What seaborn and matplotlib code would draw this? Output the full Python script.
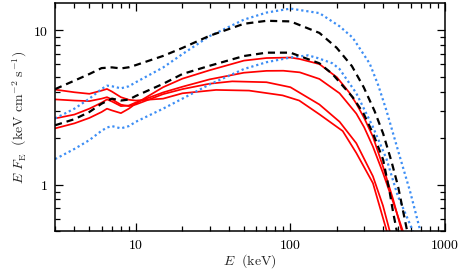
import numpy as np
import pandas as pd
import matplotlib
matplotlib.use("Agg")
import matplotlib.pyplot as plt
import seaborn as sns

# ── data (E in keV, E*F_E) ─────────────────────────────────────
# black dashed, upper
E_dash_hi = [3, 4, 5, 6, 7, 8, 9, 10, 15, 20, 30, 50, 70, 100, 154, 199,
             250, 298, 350, 398, 450, 497, 567]
F_dash_hi = [4.15, 4.71, 5.2, 5.68, 5.74, 5.65, 5.75, 5.94, 6.81, 7.67, 9.2,
             11.0, 11.5, 11.4, 9.6, 7.7, 5.85, 4.27, 3.0, 2.14, 1.42, 0.975,
             0.51]

# black dashed, lower
E_dash_lo = [3, 4, 5, 6, 7, 8, 9, 10, 15, 20, 30, 50, 70, 100, 154, 187,
             253, 297, 342, 398, 440, 462, 488]
F_dash_lo = [2.42, 2.65, 2.95, 3.34, 3.6, 3.5, 3.55, 3.75, 4.49, 5.2, 5.88,
             6.8, 7.15, 7.15, 6.1, 5.2, 3.68, 2.89, 2.15, 1.45, 0.88, 0.66,
             0.5]

# blue dotted, upper
E_dot_hi = [3, 4, 5, 6, 6.5, 7, 8, 9, 10, 15, 20, 30, 50, 70, 100, 154, 208,
            253, 326, 370, 418, 511, 597, 689]
F_dot_hi = [2.68, 3.1, 3.6, 4.16, 4.37, 4.33, 4.2, 4.33, 4.6, 5.73, 7.0, 9.15,
            11.7, 13.0, 13.8, 12.9, 10.6, 8.94, 6.07, 4.4, 3.02, 1.51, 0.89,
            0.51]

# blue dotted, lower
E_dot_lo = [3, 4, 5, 6, 6.5, 7, 8, 9, 10, 15, 20, 30, 50, 70, 100, 130, 150,
            187, 208, 267, 342, 418, 494, 620]
F_dot_lo = [1.46, 1.7, 1.94, 2.23, 2.34, 2.39, 2.31, 2.39, 2.55, 3.1, 3.6,
            4.45, 5.6, 6.2, 6.65, 6.87, 6.6, 6.1, 5.6, 3.9, 2.36, 1.47,
            0.85, 0.5]

# red solid models
E_red_a = [3, 4, 5, 6, 6.5, 7, 8, 9, 10, 15, 20, 30, 50, 70, 100, 115, 154,
           200, 240, 267, 300, 342, 397, 462, 526]
F_red_a = [2.31, 2.49, 2.7, 2.95, 3.1, 3.02, 2.9, 3.1, 3.35, 4.27, 4.85, 5.5,
           6.35, 6.6, 6.65, 6.5, 6.03, 4.95, 3.95, 3.34, 2.7, 2.04, 1.31,
           0.8, 0.5]

E_red_b = [3, 4, 5, 6, 6.5, 7, 8, 9, 10, 15, 20, 30, 50, 70, 90, 115, 154,
           208, 267, 300, 342, 397, 462, 534]
F_red_b = [2.68, 2.84, 3.1, 3.39, 3.56, 3.45, 3.22, 3.25, 3.4, 3.95, 4.3, 4.8,
           5.3, 5.45, 5.46, 5.33, 4.83, 3.9, 2.88, 2.35, 1.76, 1.19, 0.77,
           0.5]

E_red_c = [3, 4, 5, 6, 6.5, 7, 8, 9, 10, 15, 20, 30, 42, 70, 100, 154,
           208, 267, 342, 397, 439]
F_red_c = [3.56, 3.5, 3.47, 3.6, 3.68, 3.56, 3.29, 3.22, 3.3, 3.85, 4.15, 4.5,
           4.66, 4.6, 4.27, 3.3, 2.55, 1.85, 1.13, 0.73, 0.5]

E_red_d = [3, 4, 5, 6, 6.5, 7, 8, 9, 10, 15, 20, 33, 54, 89, 114, 154,
           218, 267, 342, 420]
F_red_d = [4.12, 3.96, 3.87, 4.06, 4.16, 4.0, 3.68, 3.54, 3.5, 3.6, 3.9, 4.1,
           4.06, 3.78, 3.5, 2.85, 2.22, 1.6, 1.02, 0.5]

x_ticks = [10, 100, 1000]
x_ticklabels = ["10", "100", "1000"]
y_ticks = [1, 10]
y_ticklabels = ["1", "10"]

# ── style ─────────────────────────────────────────────────────
sns.set_style("ticks")
plt.rcParams["mathtext.fontset"] = "cm"
plt.rcParams["font.family"] = ["DejaVu Serif"]

curves = [
    (E_red_a, F_red_a, "red", "-", 1.25),
    (E_red_b, F_red_b, "red", "-", 1.25),
    (E_red_c, F_red_c, "red", "-", 1.25),
    (E_red_d, F_red_d, "red", "-", 1.25),
    (E_dot_hi, F_dot_hi, "#3d8ef5", (0, (1, 1.3)), 1.6),
    (E_dot_lo, F_dot_lo, "#3d8ef5", (0, (1, 1.3)), 1.6),
    (E_dash_hi, F_dash_hi, "black", (0, (3.2, 2.2)), 1.6),
    (E_dash_lo, F_dash_lo, "black", (0, (3.2, 2.2)), 1.6),
]

fig, ax = plt.subplots(figsize=(4.63, 2.73), dpi=100)
fig.subplots_adjust(left=0.119, right=0.961, bottom=0.154, top=0.989)

for E, F, col, ls, lw in curves:
    df = pd.DataFrame({"E": E, "F": F})
    sns.lineplot(data=df, x="E", y="F", ax=ax, color=col, linestyle=ls,
                 linewidth=lw, estimator=None, sort=False)

ax.set_xscale("log")
ax.set_yscale("log")
ax.set_xlim(3, 1000)
ax.set_ylim(0.5, 15)

ax.set_xticks(x_ticks)
ax.set_xticklabels([r"$\mathrm{%s}$" % t for t in x_ticklabels])
ax.set_yticks(y_ticks)
ax.set_yticklabels([r"$\mathrm{%s}$" % t for t in y_ticklabels])
ax.xaxis.set_minor_locator(matplotlib.ticker.LogLocator(base=10, subs=np.arange(2, 10)))
ax.yaxis.set_minor_locator(matplotlib.ticker.LogLocator(base=10, subs=np.arange(2, 10)))
ax.xaxis.set_minor_formatter(matplotlib.ticker.NullFormatter())
ax.yaxis.set_minor_formatter(matplotlib.ticker.NullFormatter())

ax.tick_params(which="both", direction="in", top=True, right=True,
               labelsize=10, width=0.9, colors="black")
ax.tick_params(which="major", length=6, pad=5)
ax.tick_params(which="minor", length=3.5)
for sp in ax.spines.values():
    sp.set_visible(True)
    sp.set_linewidth(1.1)
    sp.set_color("black")

ax.set_xlabel(r"$E\ \ (\mathrm{keV})$", fontsize=10, labelpad=0)
ax.set_ylabel(r"$E\ F_{\mathrm{E}}\ \ (\mathrm{keV\ cm^{-2}\ s^{-1}})$",
              fontsize=10, labelpad=3)

plt.savefig("out.png", dpi=100)
